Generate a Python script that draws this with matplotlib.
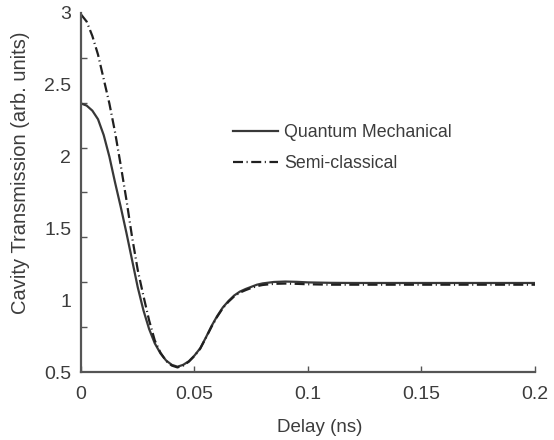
import numpy as np
import matplotlib
matplotlib.use('Agg')
from matplotlib import pyplot as plt
from matplotlib.ticker import FixedLocator

plt.rcParams['font.family'] = ['Liberation Sans', 'DejaVu Sans']

# delay (ns) and transmission
delay_q = [0.0, 0.0025, 0.005, 0.0075, 0.01, 0.0125, 0.015, 0.0175, 0.02, 0.0225,
           0.025, 0.0275, 0.03, 0.0325, 0.035, 0.0375, 0.04, 0.0425, 0.045, 0.0475,
           0.05, 0.0525, 0.055, 0.0575, 0.06, 0.0625, 0.065, 0.0675, 0.07, 0.0725,
           0.075, 0.0775, 0.08, 0.085, 0.09, 0.095, 0.1, 0.11, 0.12, 0.14, 0.16,
           0.18, 0.2]
quantum = [2.37, 2.355, 2.32, 2.26, 2.15, 2.00, 1.82, 1.65, 1.47, 1.28,
           1.09, 0.93, 0.80, 0.70, 0.63, 0.58, 0.55, 0.537, 0.55, 0.575,
           0.615, 0.665, 0.74, 0.82, 0.89, 0.95, 0.995, 1.033, 1.06, 1.078,
           1.093, 1.108, 1.117, 1.127, 1.13, 1.128, 1.124, 1.121, 1.12, 1.12, 1.12,
           1.12, 1.12]

delay_sc = [0.0, 0.0025, 0.005, 0.0075, 0.01, 0.0125, 0.015, 0.0175, 0.02, 0.0225,
            0.025, 0.0275, 0.03, 0.0325, 0.035, 0.0375, 0.04, 0.0425, 0.045, 0.0475,
            0.05, 0.0525, 0.055, 0.0575, 0.06, 0.0625, 0.065, 0.0675, 0.07, 0.0725,
            0.075, 0.0775, 0.08, 0.085, 0.09, 0.095, 0.1, 0.11, 0.12, 0.14, 0.16,
            0.18, 0.2]
semiclassical = [2.99, 2.94, 2.84, 2.71, 2.54, 2.37, 2.17, 1.94, 1.70, 1.44,
                 1.21, 1.03, 0.86, 0.72, 0.635, 0.577, 0.545, 0.532, 0.545, 0.572,
                 0.612, 0.662, 0.737, 0.815, 0.885, 0.945, 0.99, 1.027, 1.053, 1.07,
                 1.085, 1.098, 1.106, 1.114, 1.116, 1.114, 1.111, 1.108, 1.108, 1.108, 1.108,
                 1.108, 1.108]

xticks = [0, 0.05, 0.1, 0.15, 0.2]
xticklabels = ['0', '0.05', '0.1', '0.15', '0.2']
yticks = [0.5, 1, 1.5, 2, 2.5, 3]
yticklabels = ['0.5', '1', '1.5', '2', '2.5', '3']

txt = '#3c3c3c'
linec = '#383838'

fig = plt.figure(figsize=(5.54, 4.40), dpi=100)
ax = fig.add_axes([0.1462, 0.1545, 0.8195, 0.816])

ax.plot(delay_q, quantum, color=linec, lw=1.6, label='Quantum Mechanical')
ax.plot(delay_sc, semiclassical, color='#202020', lw=1.6,
        dashes=(4.5, 1.6, 0.5, 1.6), label='Semi-classical')

ax.set_xlim(0, 0.2)
ax.set_ylim(0.5, 3)

for s in ['top', 'right']:
    ax.spines[s].set_visible(False)
for s in ['left', 'bottom']:
    ax.spines[s].set_color('#555555')
    ax.spines[s].set_linewidth(1.6)

ax.set_xticks(xticks)
ax.set_xticklabels(xticklabels)
ax.set_yticks(yticks)
ax.set_yticklabels(yticklabels)
# y tick marks in the original sit on a different spacing than the labels
ax.yaxis.set_minor_locator(FixedLocator(np.linspace(0.5, 3, 9)))
ax.tick_params(axis='x', direction='in', length=4, width=1, color='#555555',
               labelsize=14, labelcolor=txt, pad=10)
ax.tick_params(axis='y', which='major', length=0, labelsize=14,
               labelcolor=txt, pad=7)
ax.tick_params(axis='y', which='minor', direction='in', length=4, width=1,
               color='#555555')

ax.set_xlabel('Delay (ns)', fontsize=13.5, color=txt)
ax.xaxis.set_label_coords(0.525, -0.13)
ax.set_ylabel('Cavity Transmission (arb. units)', fontsize=14.5, color=txt)
ax.yaxis.set_label_coords(-0.112, 0.554)

leg = ax.legend(loc='upper left', bbox_to_anchor=(0.315, 0.716), frameon=False,
                fontsize=12.8, handlelength=2.55, handletextpad=0.32,
                labelspacing=0.8, borderpad=0)
for t in leg.get_texts():
    t.set_color(txt)

fig.savefig('out.png', dpi=100)
